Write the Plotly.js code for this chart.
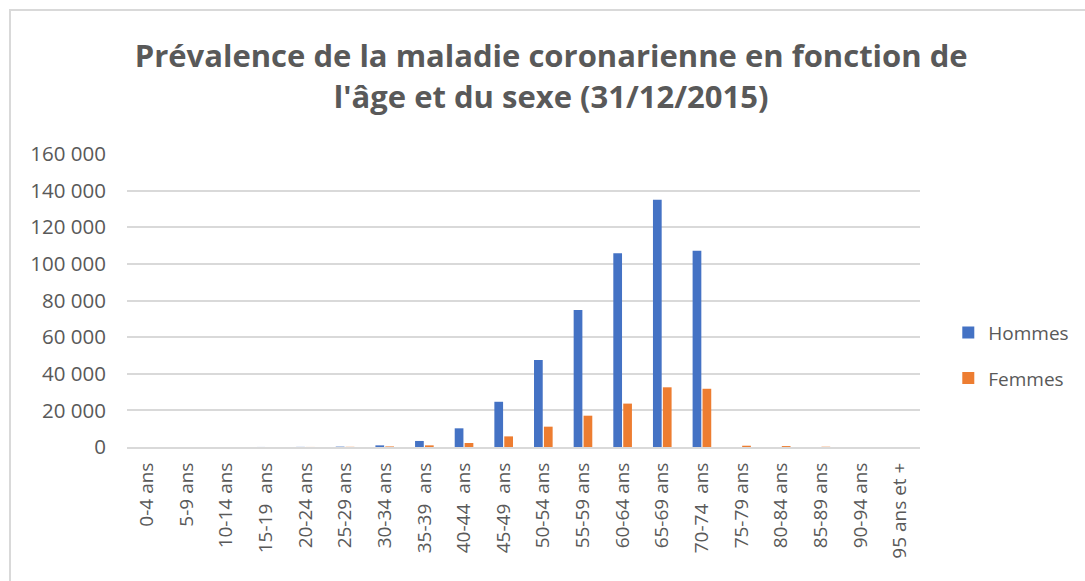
<!DOCTYPE html>
<html>
<head>
<meta charset="utf-8">
<script src="https://cdn.plot.ly/plotly-3.0.1.min.js"></script>
<style>
html,body{margin:0;padding:0;background:#fff;overflow:hidden;}
#frame{position:absolute;left:9px;top:9px;width:1200px;height:700px;border-top:2px solid #d9d9d9;border-left:2px solid #d9d9d9;}
#chart{position:absolute;left:0;top:0;width:1085px;height:581px;}
</style>
</head>
<body>
<div id="frame"></div>
<div id="chart"></div>
<script>
const categories = ["0-4 ans","5-9 ans","10-14 ans","15-19  ans","20-24 ans","25-29 ans","30-34 ans","35-39  ans","40-44  ans","45-49  ans","50-54 ans","55-59 ans","60-64 ans","65-69 ans","70-74  ans","75-79 ans","80-84 ans","85-89 ans","90-94 ans","95 ans et +"];
const hommes = [0,0,0,20,60,200,900,3300,10200,24700,47500,74800,105800,135000,107200,0,0,0,0,0];
const femmes = [0,0,0,10,30,100,300,900,2200,5800,11100,17100,23700,32600,31800,700,500,150,0,0];
const yTicks = [0,20000,40000,60000,80000,100000,120000,140000,160000];
const yTickLabels = ["0","20 000","40 000","60 000","80 000","100 000","120 000","140 000","160 000"];

const font = "'Open Sans', 'Liberation Sans', sans-serif";
const data = [
  {type:"bar", name:"Hommes", legendgroup:"h", x:categories, y:hommes, marker:{color:"#4472C4"}},
  {type:"bar", name:"Femmes", legendgroup:"f", x:categories, y:femmes, marker:{color:"#ED7D31"}}
];
const layout = {
  width:1085, height:581,
  paper_bgcolor:"rgba(0,0,0,0)", plot_bgcolor:"rgba(0,0,0,0)",
  margin:{l:127, r:165, t:154, b:134},
  title:{text:"Prévalence de la maladie coronarienne en fonction de<br>l'âge et du sexe (31/12/2015)",
    font:{family:font, size:31, color:"#595959", weight:"bold"}, x:0.508, xanchor:"center", y:0.884, yanchor:"middle"},
  barmode:"group", bargap:0.5, bargroupgap:0.12,
  xaxis:{type:"category", tickangle:-90, tickfont:{family:font, size:19, color:"#595959"},
    showgrid:false, showline:true, linecolor:"#d9d9d9", linewidth:2, ticks:"", automargin:false, ticklabelstandoff:6},
  yaxis:{range:[0,160000], tickvals:yTicks, ticktext:yTickLabels, tickfont:{family:font, size:20.5, color:"#595959"},
    showgrid:true, gridcolor:"#d9d9d9", gridwidth:2, zeroline:false, showline:false, ticks:"", ticklen:0, automargin:false, ticklabelstandoff:20},
  showlegend:true,
  legend:{xref:"container", yref:"container", x:0.874, y:0.388, xanchor:"left", yanchor:"middle", font:{family:font, size:19, color:"#595959"},
    traceorder:"grouped", tracegroupgap:18, itemwidth:30, bgcolor:"rgba(0,0,0,0)"}
};
Plotly.newPlot("chart", data, layout, {displayModeBar:false, staticPlot:true});
</script>
</body>
</html>
